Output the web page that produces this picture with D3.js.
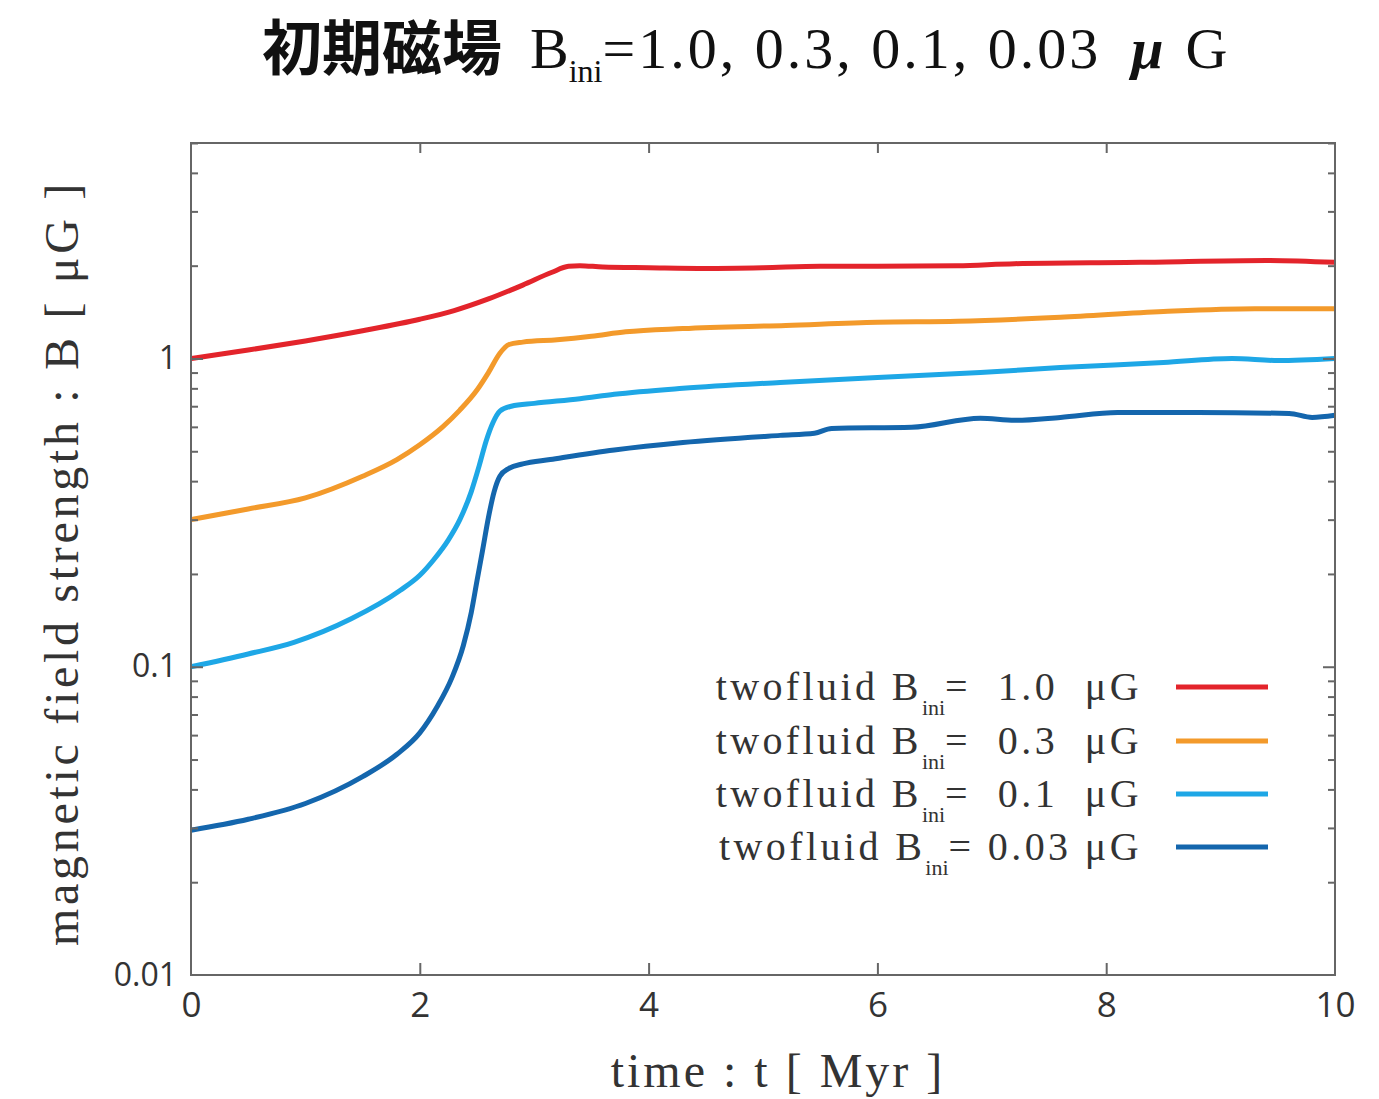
<!DOCTYPE html>
<html><head><meta charset="utf-8">
<script src="https://cdn.jsdelivr.net/npm/d3@7"></script>
<style>body{margin:0;background:#fff}</style>
</head><body>
<svg id="c" width="1379" height="1099"></svg>
<script>
const xTicks = [0, 2, 4, 6, 8, 10];
const yMajorTicks = [0.01, 0.1, 1];
const yTickLabels = ["0.01", "0.1", "1"];
const seriesNames = ["1.0", "0.3", "0.1", "0.03"];
const seriesColors = ["#e3242b", "#f39a2b", "#1ea7e6", "#1466ad"];

const tRed = [0, 0.5, 1.0, 1.5, 2.0, 2.3, 2.6, 2.9, 3.15, 3.3, 3.4, 3.6, 4.0, 4.5, 5.0, 5.5, 6.0, 6.7, 7.2, 8.3, 9.4, 10];
const bRed = [1.0, 1.065, 1.14, 1.23, 1.34, 1.43, 1.56, 1.73, 1.9, 1.99, 2.0, 1.98, 1.97, 1.96, 1.97, 1.99, 1.99, 2.0, 2.03, 2.05, 2.08, 2.05];

const tOrange = [0, 0.5, 1.0, 1.5, 1.8, 2.0, 2.2, 2.35, 2.5, 2.6, 2.7, 2.78, 2.9, 3.2, 3.5, 3.8, 4.3, 5.2, 6.0, 6.7, 7.6, 8.5, 9.3, 10];
const bOrange = [0.30, 0.325, 0.353, 0.415, 0.47, 0.525, 0.60, 0.68, 0.79, 0.90, 1.04, 1.11, 1.13, 1.15, 1.18, 1.22, 1.25, 1.28, 1.31, 1.32, 1.36, 1.42, 1.45, 1.45];

const tLight = [0, 0.5, 0.9, 1.4, 1.83, 2.0, 2.12, 2.25, 2.35, 2.45, 2.52, 2.58, 2.64, 2.7, 2.8, 3.0, 3.4, 3.7, 4.3, 5.15, 6.0, 6.9, 7.6, 8.5, 9.1, 9.5, 10];
const bLight = [0.10, 0.11, 0.12, 0.143, 0.177, 0.198, 0.222, 0.258, 0.30, 0.37, 0.45, 0.54, 0.62, 0.675, 0.70, 0.715, 0.74, 0.765, 0.80, 0.836, 0.868, 0.90, 0.935, 0.97, 1.0, 0.985, 1.0];

const tDark = [0, 0.5, 1.0, 1.5, 1.8, 2.0, 2.15, 2.28, 2.38, 2.45, 2.5, 2.55, 2.6, 2.65, 2.7, 2.78, 2.9, 3.14, 3.7, 4.3, 5.15, 5.45, 5.6, 6.3, 6.9, 7.2, 7.6, 8.1, 8.8, 9.6, 9.8, 10];
const bDark = [0.0295, 0.032, 0.036, 0.044, 0.052, 0.061, 0.074, 0.092, 0.117, 0.15, 0.19, 0.24, 0.305, 0.37, 0.415, 0.44, 0.455, 0.47, 0.505, 0.534, 0.563, 0.572, 0.593, 0.598, 0.64, 0.63, 0.644, 0.668, 0.668, 0.663, 0.644, 0.654];

const seriesT = [tRed, tOrange, tLight, tDark];
const seriesB = [bRed, bOrange, bLight, bDark];

const svg = d3.select("#c");
const L = 191, R = 1335, T = 143, B = 975;
const x = d3.scaleLinear().domain([0, 10]).range([L, R]);
const y = d3.scaleLog().domain([0.01, 5]).range([B, T]);

const serif = "'Liberation Serif','DejaVu Serif',serif";
const sans = "'Open Sans','Noto Sans',sans-serif";
const axisColor = "#666";

// Title
svg.append("text").attr("x", 262).attr("y", 70).attr("fill", "#111")
  .attr("font-family", "'Noto Sans CJK JP','Noto Sans CJK SC',sans-serif").attr("font-weight", "bold")
  .attr("font-size", 60).text("初期磁場");
const title = svg.append("text").attr("x", 530).attr("y", 68).attr("fill", "#111")
  .attr("font-family", serif).attr("font-size", 58);
title.append("tspan").text("B");
title.append("tspan").attr("font-size", 32).attr("dy", 14).text("ini");
title.append("tspan").attr("letter-spacing", 3).attr("dy", -14).text("=1.0, 0.3, 0.1, 0.03");
title.append("tspan").attr("dx", 30).attr("font-style", "italic").attr("font-weight", "bold").text("μ");
title.append("tspan").attr("dx", 22).text("G");

// Lines
const line = d3.line().x(d => x(d[0])).y(d => y(d[1])).curve(d3.curveMonotoneX);
const g = svg.append("g");
seriesT.forEach((ts, i) => {
  const pts = ts.map((t, k) => [t, seriesB[i][k]]);
  g.append("path").datum(pts).attr("d", line).attr("fill", "none")
    .attr("stroke", seriesColors[i]).attr("stroke-width", 5).attr("stroke-linejoin", "round");
});

// Frame
svg.append("rect").attr("x", L).attr("y", T).attr("width", R - L).attr("height", B - T)
  .attr("fill", "none").attr("stroke", axisColor).attr("stroke-width", 2);

// Axes (ticks inward)
const minor = [];
[0.01, 0.1, 1].forEach(d => { for (let k = 2; k <= 9; k++) { const v = d * k; if (v <= 5) minor.push(v); } });
const styleTicks = a => { a.select(".domain").remove(); a.selectAll("line").attr("stroke", axisColor).attr("stroke-width", 2); };

svg.append("g").attr("transform", `translate(${L},0)`)
  .call(d3.axisRight(y).tickValues(minor).tickSize(7).tickFormat("")).call(styleTicks);
svg.append("g").attr("transform", `translate(${L},0)`)
  .call(d3.axisRight(y).tickValues([0.1, 1]).tickSize(12).tickFormat("")).call(styleTicks);
svg.append("g").attr("transform", `translate(${R},0)`)
  .call(d3.axisLeft(y).tickValues(minor).tickSize(7).tickFormat("")).call(styleTicks);
svg.append("g").attr("transform", `translate(${R},0)`)
  .call(d3.axisLeft(y).tickValues([0.1, 1]).tickSize(12).tickFormat("")).call(styleTicks);

// y labels
svg.append("g").attr("transform", `translate(${L},0)`)
  .call(d3.axisLeft(y).tickValues(yMajorTicks).tickSize(0).tickPadding(14)
    .tickFormat((d, i) => yTickLabels[i]))
  .call(a => { a.select(".domain").remove();
    a.selectAll("text").attr("font-family", sans).attr("font-size", 32).attr("fill", "#333"); });

// x axis
svg.append("g").attr("transform", `translate(0,${B})`)
  .call(d3.axisTop(x).tickValues(xTicks.slice(1, -1)).tickSize(12).tickFormat("")).call(styleTicks);
svg.append("g").attr("transform", `translate(0,${T})`)
  .call(d3.axisBottom(x).tickValues(xTicks.slice(1, -1)).tickSize(10).tickFormat("")).call(styleTicks);
svg.append("g").attr("transform", `translate(0,${B})`)
  .call(d3.axisBottom(x).tickValues(xTicks).tickSize(0).tickPadding(17).tickFormat(d3.format("d")))
  .call(a => { a.select(".domain").remove();
    a.selectAll("text").attr("font-family", sans).attr("font-size", 35).attr("fill", "#333"); });

// Axis titles
svg.append("text").attr("x", 778).attr("y", 1087).attr("text-anchor", "middle")
  .attr("font-family", serif).attr("font-size", 48).attr("letter-spacing", 3).attr("fill", "#333").text("time : t [ Myr ]");
svg.append("text").attr("transform", "translate(78,563) rotate(-90)").attr("text-anchor", "middle")
  .attr("font-family", serif).attr("font-size", 48).attr("letter-spacing", 3.7).attr("fill", "#333").text("magnetic field strength : B [ μG ]");

// Legend
const legY = [687, 741, 794, 847];
const legVals = ["  1.0  ", "  0.3  ", "  0.1  ", " 0.03 "];
seriesNames.forEach((n, i) => {
  const t = svg.append("text").attr("x", 1142).attr("y", legY[i] + 13).attr("text-anchor", "end")
    .attr("font-family", serif).attr("font-size", 40).attr("letter-spacing", 3.4).attr("fill", "#333").attr("xml:space", "preserve");
  t.append("tspan").text("twofluid B");
  t.append("tspan").attr("font-size", 22).attr("letter-spacing", 0).attr("dy", 15).text("ini");
  t.append("tspan").attr("dy", -15).text("=" + legVals[i] + "μG");
  svg.append("line").attr("x1", 1176).attr("x2", 1268).attr("y1", legY[i]).attr("y2", legY[i])
    .attr("stroke", seriesColors[i]).attr("stroke-width", 5);
});
</script>
</body></html>
